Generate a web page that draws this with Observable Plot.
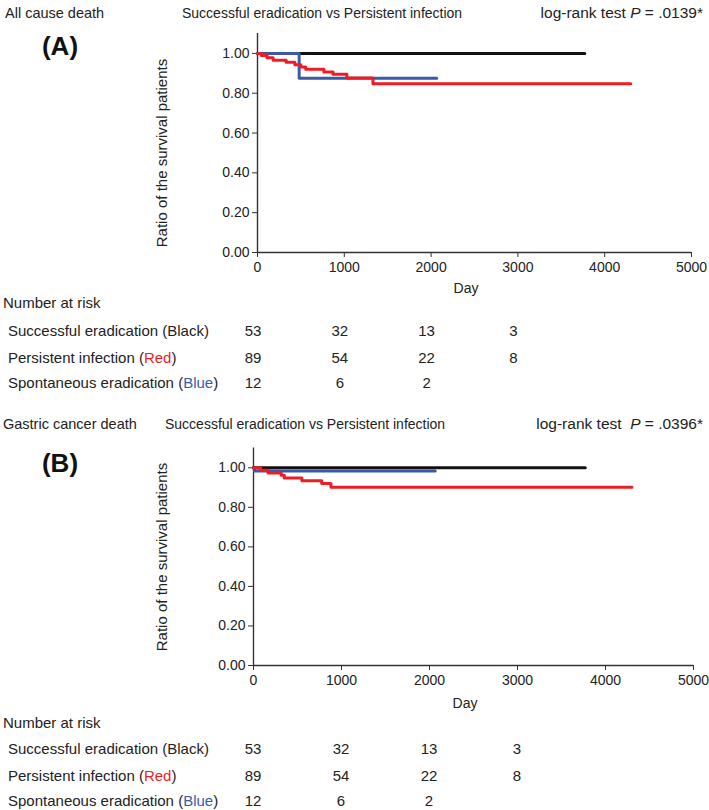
<!DOCTYPE html>
<html><head><meta charset="utf-8">
<script src="https://cdn.jsdelivr.net/npm/d3@7"></script>
<script src="https://cdn.jsdelivr.net/npm/@observablehq/plot@0.6"></script>
<style>
body{margin:0;background:#fff;}
#root{position:relative;width:709px;height:810px;font-family:"Liberation Sans",Arial,sans-serif;color:#222;font-size:15px;overflow:hidden;}
.t{position:absolute;white-space:nowrap;line-height:1;}
svg{position:absolute;left:0;}
</style></head><body><div id="root"></div>
<script>
// ---------- data ----------
const xTicks = [0, 1000, 2000, 3000, 4000, 5000];
const yTicks = [0, 0.2, 0.4, 0.6, 0.8, 1.0];

// Panel A: all cause death
const aBlackDay = [0, 3770];
const aBlackSurv = [1, 1];
const aRedDay = [0, 45, 110, 180, 330, 430, 500, 555, 765, 870, 1030, 1330, 4300];
const aRedSurv = [1, 0.989, 0.978, 0.966, 0.955, 0.943, 0.932, 0.921, 0.907, 0.895, 0.877, 0.848, 0.848];
const aBlueDay = [0, 480, 2065];
const aBlueSurv = [1, 0.875, 0.875];

// Panel B: gastric cancer death
const bBlackDay = [0, 3770];
const bBlackSurv = [1, 1];
const bRedDay = [0, 80, 165, 315, 350, 550, 775, 880, 4300];
const bRedSurv = [1, 0.988, 0.973, 0.962, 0.948, 0.934, 0.921, 0.902, 0.902];
const bBlueDay = [0, 10, 2065];
const bBlueSurv = [1, 0.984, 0.984];

// Number at risk
const riskDays = [0, 1000, 2000, 3000];
const riskBlack = [53, 32, 13, 3];
const riskRed = [89, 54, 22, 8];
const riskBlue = [12, 6, 2];

const riskLabels = [
  'Successful eradication (Black)',
  'Persistent infection (<span style="color:#ee1c25">Red</span>)',
  'Spontaneous eradication (<span style="color:#3b5aa6">Blue</span>)'
];

const RED = "#ee1c25", BLUE = "#3b5aa6", BLACK = "#111";
const root = document.getElementById("root");

function txt(html, x, y, o = {}) {
  const d = document.createElement("div");
  d.className = "t";
  d.innerHTML = html;
  d.style.left = x + "px";
  d.style.top = y + "px";
  if (o.size) d.style.fontSize = o.size + "px";
  if (o.weight) d.style.fontWeight = o.weight;
  if (o.color) d.style.color = o.color;
  let tx = o.anchor === "middle" ? "-50%" : o.anchor === "end" ? "-100%" : "0";
  d.style.transform = `translate(${tx},-50%)`;
  if (o.rotate) d.style.transform = `translate(-50%,-50%) rotate(${o.rotate}deg)`;
  root.appendChild(d);
  return d;
}

function series(days, surv) { return days.map((t, i) => ({t, s: surv[i]})); }

function panel(cfg) {
  const lineOpts = (c) => ({x: "t", y: "s", curve: "step-after", stroke: c, strokeWidth: 3});
  const chart = Plot.plot({
    width: 709, height: 300,
    marginLeft: cfg.ml, marginRight: cfg.mr, marginTop: cfg.mt, marginBottom: cfg.mb,
    x: {domain: [0, 5000]},
    y: {domain: [0, 1.1]},
    style: {fontFamily: '"Liberation Sans", Arial, sans-serif', fontSize: "14px", color: "#222", background: "transparent", overflow: "visible"},
    marks: [
      Plot.axisX({ticks: xTicks, tickSize: 5, tickPadding: 5, label: null, tickFormat: d => String(d), stroke: "#333"}),
      Plot.axisY({ticks: yTicks, tickSize: 5, tickPadding: 3, label: null, tickFormat: d3.format(".2f"), stroke: "#333"}),
      Plot.ruleY([0], {stroke: "#333", strokeWidth: 1.4}),
      Plot.ruleX([0], {stroke: "#333", strokeWidth: 1.4}),
      ...cfg.lines.map(([d, c]) => Plot.line(d, lineOpts(c)))
    ]
  });
  chart.style.top = cfg.top + "px";
  root.appendChild(chart);
  const sx = chart.scale("x");
  // headers
  txt(cfg.h1, cfg.h1x, cfg.hy, {size: 14.5});
  txt("Successful eradication vs Persistent infection", cfg.h2x, cfg.hy, {size: 14});
  txt(cfg.h3, 703, cfg.hy, {anchor: "end", size: 15.5});
  txt(cfg.letter, 60, cfg.ly, {anchor: "middle", size: 26, weight: "bold", color: "#111"});
  txt("Ratio of the survival patients", 161, cfg.yly, {rotate: -90, size: 15});
  txt("Day", sx.apply(2500) - 8, cfg.dayY, {anchor: "middle", size: 14});
  // risk table
  txt("Number at risk", 3, cfg.ry[0]);
  const rows = [riskBlack, riskRed, riskBlue];
  rows.forEach((vals, r) => {
    txt(riskLabels[r], 8, cfg.ry[r + 1]);
    vals.forEach((v, i) => txt(String(v), sx.apply(riskDays[i]) + cfg.rdx, cfg.ry[r + 1], {anchor: "middle"}));
  });
}

panel({
  top: 0, ml: 257, mr: 18, mt: 33, mb: 48,
  lines: [[series(aBlackDay, aBlackSurv), BLACK], [series(aBlueDay, aBlueSurv), BLUE], [series(aRedDay, aRedSurv), RED]],
  h1: "All cause death", h1x: 5, h2x: 182,
  h3: 'log-rank test <i>P</i> = .0139*',
  hy: 13, letter: "(A)", ly: 46, yly: 153, dayY: 288,
  ry: [302, 330, 357, 382], rdx: -4
});

panel({
  top: 400, ml: 253, mr: 16, mt: 47.5, mb: 35,
  lines: [[series(bBlueDay, bBlueSurv), BLUE], [series(bBlackDay, bBlackSurv), BLACK], [series(bRedDay, bRedSurv), RED]],
  h1: "Gastric cancer death", h1x: 3, h2x: 165,
  h3: 'log-rank test&nbsp; <i>P</i> = .0396*',
  hy: 424, letter: "(B)", ly: 463, yly: 557, dayY: 703,
  ry: [722, 748, 775, 800], rdx: 0
});
</script></body></html>
